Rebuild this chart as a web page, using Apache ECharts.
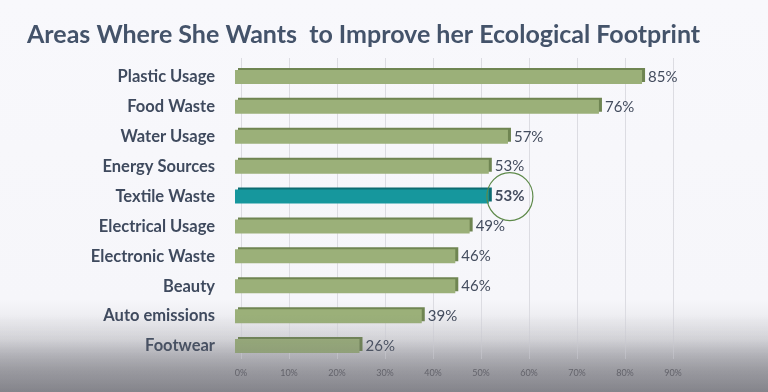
<!DOCTYPE html>
<html><head><meta charset="utf-8">
<script src="https://cdn.jsdelivr.net/npm/echarts@6/dist/echarts.min.js"></script>
<style>
html,body{margin:0;padding:0;}
body{width:768px;height:392px;position:relative;background:linear-gradient(to bottom,#f8f8fc 0px,#f6f6fa 300px,#e2e2e6 340px,#b4b4b9 370px,#9c9ca2 392px);overflow:hidden;}
#c{width:768px;height:392px;position:absolute;left:0;top:0;}
#ov{position:absolute;left:0;top:0;width:768px;height:392px;pointer-events:none;background:linear-gradient(to bottom,rgba(120,120,128,0) 0px,rgba(120,120,128,0) 315px,rgba(120,120,128,0.12) 335px,rgba(110,110,118,0.3) 360px,rgba(100,100,108,0.42) 392px);}
</style></head>
<body><div id="c"></div><div id="ov"></div>
<script>
const titleText = 'Areas Where She Wants  to Improve her Ecological Footprint';
const categories = ['Plastic Usage','Food Waste','Water Usage','Energy Sources','Textile Waste','Electrical Usage','Electronic Waste','Beauty','Auto emissions','Footwear'];
const values = [85,76,57,53,53,49,46,46,39,26];
const highlight = 'Textile Waste';
const tickLabels = ['0%','10%','20%','30%','40%','50%','60%','70%','80%','90%'];

const chart = echarts.init(document.getElementById('c'));
const green = '#9bb079', greenDark = '#6f8552';
const teal = '#16979d', tealDark = '#0d6c71';
const data = values.map((v,i)=>{
  const hi = categories[i]===highlight;
  return {
    value:v,
    itemStyle:{color: hi?teal:green, shadowColor: hi?tealDark:greenDark, shadowOffsetX:3, shadowOffsetY:-2, shadowBlur:0},
    label:{fontWeight: hi?'bold':'normal'}
  };
});
chart.setOption({
  animation:false,
  title:{text:titleText,left:22,top:17,textStyle:{fontFamily:'Lato',fontWeight:'bold',fontSize:25,color:'#44536a'}},
  grid:[
    {left:235,width:431,top:62,height:299},
    {left:241,width:432,top:58,height:301}
  ],
  xAxis:[
    {gridIndex:0,type:'value',min:0,max:90,interval:10,axisLine:{show:false},axisTick:{show:false},splitLine:{show:false},
     axisLabel:{show:false}},
    {gridIndex:1,type:'value',min:0,max:90,interval:10,axisLine:{show:false},axisTick:{show:false},
     splitLine:{show:true,lineStyle:{color:'#dcdce2',width:1}},
     axisLabel:{show:true,margin:10,color:'#606068',fontSize:9,fontFamily:'Lato',formatter:v=>tickLabels[v/10]}}
  ],
  yAxis:[
    {gridIndex:0,type:'category',data:categories,inverse:true,axisLine:{show:false},axisTick:{show:false},
     axisLabel:{margin:20,color:'#3f4a5e',fontFamily:'Lato',fontWeight:'bold',fontSize:16.5}},
    {gridIndex:1,type:'category',data:categories,inverse:true,show:false}
  ],
  series:[{
    type:'bar',xAxisIndex:0,yAxisIndex:0,data:data,barWidth:14,
    label:{show:true,position:'right',distance:6,formatter:'{c}%',color:'#434c5e',fontFamily:'Lato',fontSize:15},
    markPoint:{
      symbol:'circle',symbolSize:[46,48],symbolOffset:[0,0],silent:true,
      itemStyle:{color:'rgba(0,0,0,0)',borderColor:'#5e8a4a',borderWidth:1.2},
      label:{show:false},
      data:[{coord:[53+4.4,highlight]}]
    }
  }]
});
</script></body></html>
